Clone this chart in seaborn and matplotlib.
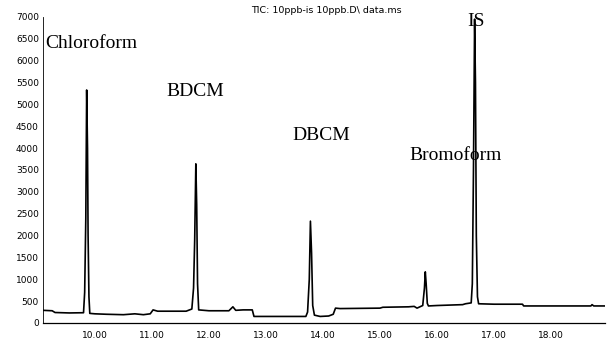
import matplotlib
matplotlib.use("Agg")
import matplotlib.pyplot as plt
import seaborn as sns
import pandas as pd
import numpy as np

# Chromatogram trace (retention time in min, abundance)
rt = [9.09, 9.25, 9.30, 9.55, 9.80, 9.82, 9.84, 9.855, 9.87, 9.88, 9.895, 9.91,
      10.0, 10.2, 10.5, 10.7, 10.85, 10.97, 11.02, 11.1, 11.6, 11.70, 11.73, 11.75,
      11.77, 11.785, 11.80, 11.82, 12.0, 12.35, 12.42, 12.47, 12.6, 12.76, 12.79,
      13.0, 13.70, 13.73, 13.76, 13.78, 13.80, 13.82, 13.85, 13.95, 14.1, 14.18,
      14.22, 14.3, 15.0, 15.05, 15.5, 15.6, 15.65, 15.75, 15.78, 15.795, 15.81,
      15.83, 15.85, 16.0, 16.45, 16.50, 16.60, 16.62, 16.64, 16.66, 16.675, 16.69,
      16.71, 16.73, 17.0, 17.5, 17.52, 18.7, 18.72, 18.75, 18.95]
abundance = [290, 280, 240, 230, 235, 700, 2400, 5330, 4000, 2000, 600, 220,
             210, 200, 190, 210, 190, 210, 300, 270, 270, 320, 800, 1900,
             3640, 2700, 900, 300, 280, 280, 370, 290, 300, 300, 150,
             150, 150, 250, 1000, 2330, 1600, 400, 180, 150, 160, 200,
             340, 330, 340, 360, 370, 380, 340, 400, 800, 1170, 900,
             450, 390, 400, 420, 440, 460, 900, 3500, 6950, 5500, 2000,
             600, 440, 430, 430, 390, 390, 420, 390, 390]

# Peak labels
peak_names = ['Chloroform', 'BDCM', 'DBCM', 'Bromoform', 'IS']
label_x = [9.13, 11.26, 13.46, 15.51, 16.53]
label_y = [6390, 5290, 4300, 3840, 6890]

title = r'TIC: 10ppb-is 10ppb.D\ data.ms'

df = pd.DataFrame({'rt': rt, 'abundance': abundance})

sns.set_style('white')
plt.rcParams['font.family'] = ['DejaVu Sans']
plt.rcParams['text.color'] = 'black'
plt.rcParams['xtick.color'] = 'black'
plt.rcParams['ytick.color'] = 'black'

fig = plt.figure(figsize=(6.15, 3.4), dpi=100)
ax = fig.add_axes([0.070, 0.05, 0.914, 0.90])

sns.lineplot(data=df, x='rt', y='abundance', ax=ax, color='black', linewidth=1.2)

for name, x, y in zip(peak_names, label_x, label_y):
    ax.text(x, y, name, family='Liberation Serif', fontsize=14, va='center',
            ha='left', color='black')

fig.text(0.530, 0.968, title, fontsize=6.8, ha='center', va='center', color='black')

ax.set_xlim(9.09, 18.95)
ax.set_ylim(0, 7000)
ax.set_xticks(np.arange(10, 19, 1))
ax.set_xticklabels([f'{v:.2f}' for v in np.arange(10, 19, 1)])
ax.set_xticks(np.arange(9.2, 19.0, 0.2), minor=True)
ax.set_yticks(np.arange(0, 7001, 500))
ax.set_xlabel('')
ax.set_ylabel('')

ax.tick_params(axis='x', which='major', direction='out', length=5, width=0.9,
               labelsize=6.5, pad=1, color='black', labelcolor='black')
ax.tick_params(axis='x', which='minor', direction='out', length=3, width=0.8, color='black')
ax.tick_params(axis='y', length=0, labelsize=6.5, pad=3, labelcolor='black')

for s in ['top', 'right']:
    ax.spines[s].set_visible(False)
ax.spines['left'].set_color('black')
ax.spines['left'].set_linewidth(0.6)
ax.spines['bottom'].set_color('black')
ax.spines['bottom'].set_linewidth(0.9)

fig.savefig('out.png', dpi=100)
